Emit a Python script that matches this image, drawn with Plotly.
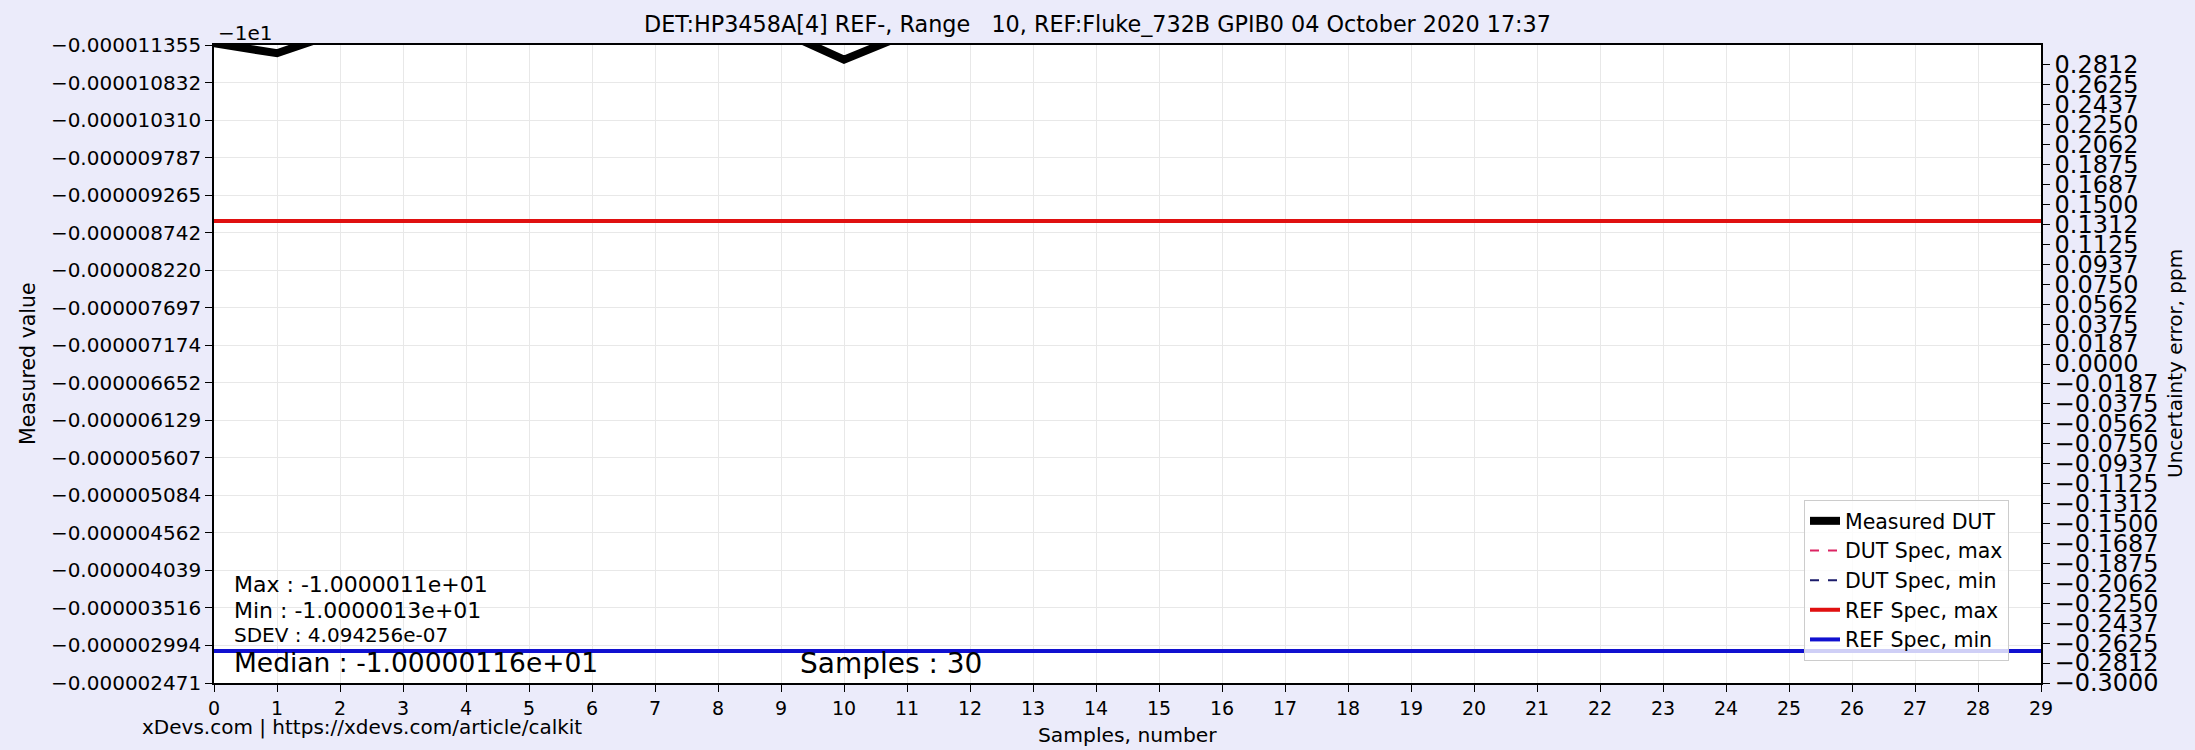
import numpy as np
import plotly.graph_objects as go

# samples and readings, readings stored as offset from -10 V (in uV)
samples = list(range(30))
measured_uv = [-11.38, -11.24, -11.54, -11.62, -11.71, -11.58, -11.66, -11.49, -11.75, -11.55,
               -11.15, -11.51, -11.63, -11.82, -11.60, -11.57, -11.69, -11.88, -11.61, -11.53,
               -11.72, -11.64, -11.59, -12.96, -11.67, -11.78, -11.56, -11.62, -11.70, -11.48]
dut_spec_max_uv = -14.20
dut_spec_min_uv = -0.90
ref_spec_max_uv = -8.904
ref_spec_min_uv = -2.916

left_ticks = [-0.000011355, -0.000010832, -0.000010310, -0.000009787, -0.000009265, -0.000008742,
              -0.000008220, -0.000007697, -0.000007174, -0.000006652, -0.000006129, -0.000005607,
              -0.000005084, -0.000004562, -0.000004039, -0.000003516, -0.000002994, -0.000002471]
right_ticks = [k * 0.01875 for k in range(15, -17, -1)]
right_labels = ["0.2812", "0.2625", "0.2437", "0.2250", "0.2062", "0.1875", "0.1687", "0.1500",
                "0.1312", "0.1125", "0.0937", "0.0750", "0.0562", "0.0375", "0.0187", "0.0000",
                "−0.0187", "−0.0375", "−0.0562", "−0.0750", "−0.0937", "−0.1125", "−0.1312", "−0.1500",
                "−0.1687", "−0.1875", "−0.2062", "−0.2250", "−0.2437", "−0.2625", "−0.2812", "−0.3000"]

title = "DET:HP3458A[4] REF-, Range\u00a0\u00a0\u00a010, REF:Fluke_732B GPIB0 04 October 2020 17:37"

measured = np.array(measured_uv) * 1e-6
n = len(samples)

# plot area in pixels of the 2195x750 page
W, H = 2195, 750
L, R, T, B = 214, 2041, 45, 683


def px(x):
    return (x - L) / (R - L)


def py(y):
    return (B - y) / (B - T)


fig = go.Figure()
series = [
    ("Measured DUT", measured, dict(color="black", width=8)),
    ("DUT Spec, max", [dut_spec_max_uv * 1e-6] * n, dict(color="#dc2463", width=2, dash="dash")),
    ("DUT Spec, min", [dut_spec_min_uv * 1e-6] * n, dict(color="#1c1c6b", width=2, dash="dash")),
    ("REF Spec, max", [ref_spec_max_uv * 1e-6] * n, dict(color="#e01010", width=4)),
    ("REF Spec, min", [ref_spec_min_uv * 1e-6] * n, dict(color="#1010d0", width=4)),
]
for name, ys, line in series:
    fig.add_trace(go.Scatter(x=samples, y=ys, mode="lines", name=name, line=line, legendgroup=name))
# keeps the right axis alive
fig.add_trace(go.Scatter(x=[None], y=[None], yaxis="y2", showlegend=False, hoverinfo="skip"))

axis_style = dict(ticks="outside", ticklen=7, tickcolor="black", showline=True, linecolor="black",
                  linewidth=1.5, zeroline=False, automargin=False)

fig.update_layout(
    width=W, height=H,
    margin=dict(l=L, r=W - R, t=T, b=H - B),
    paper_bgcolor="#ebebfa",
    plot_bgcolor="white",
    font=dict(family="DejaVu Sans", color="black", size=20),
    title=dict(text=title, x=0.5, xref="container", xanchor="center",
               y=1 - 24 / H, yref="container", yanchor="middle", font=dict(size=22.3)),
    xaxis=dict(range=[0, 29], tickvals=samples, mirror=True, showgrid=True, gridcolor="#e8e8e8",
               tickfont=dict(size=19), **axis_style),
    yaxis=dict(range=[left_ticks[-1], left_ticks[0]], tickvals=left_ticks,
               ticktext=[f"{v:.9f}".replace("-", "−") for v in left_ticks],
               mirror=True, showgrid=True, gridcolor="#e8e8e8", tickfont=dict(size=20), **axis_style),
    yaxis2=dict(range=[-0.3, 0.3], overlaying="y", side="right", tickvals=right_ticks, ticktext=right_labels,
                showgrid=False, tickfont=dict(size=24), **axis_style),
    legend=dict(x=px(2009), xanchor="right", y=py(661), yanchor="bottom", tracegroupgap=0,
                bgcolor="rgba(255,255,255,0.8)", bordercolor="#cccccc", borderwidth=1,
                font=dict(size=20.5)),
    showlegend=True,
)

notes = [
    ("−1e1", L + 2, 33, 20, "left", 0),
    ("Measured value", 28, 364, 20.5, "center", -90),
    ("Uncertainty error, ppm", 2175, 364, 20, "center", -90),
    ("Samples, number", (L + R) / 2, 735, 20.3, "center", 0),
    ("xDevs.com | https://xdevs.com/article/calkit", 140, 727, 20, "left", 0),
    ("Max : -1.0000011e+01", 232, 584, 22, "left", 0),
    ("Min : -1.0000013e+01", 232, 610, 22, "left", 0),
    ("SDEV : 4.094256e-07", 232, 635, 20, "left", 0),
    ("Median : -1.00000116e+01", 232, 662, 26.5, "left", 0),
    ("Samples : 30", 798, 663, 28, "left", 0),
]
for text, x, y, size, anchor, angle in notes:
    fig.add_annotation(text=text, xref="paper", yref="paper", x=px(x), y=py(y),
                       xanchor=anchor, yanchor="middle", showarrow=False, textangle=angle,
                       font=dict(size=size))

fig.write_html("out.html", config={"displayModeBar": False},
               post_script="document.body.style.margin='0px';")
